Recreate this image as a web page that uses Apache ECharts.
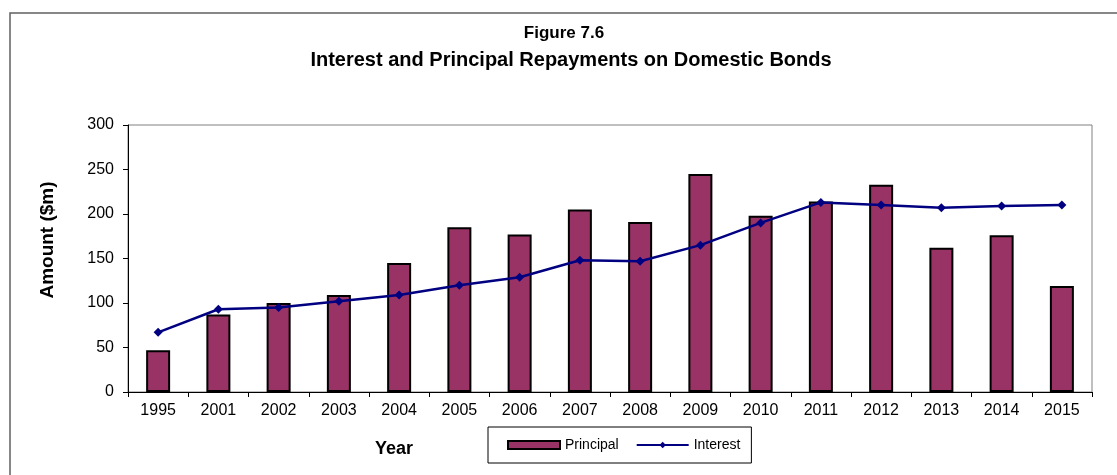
<!DOCTYPE html>
<html>
<head>
<meta charset="utf-8">
<script src="https://cdn.jsdelivr.net/npm/echarts@6/dist/echarts.min.js"></script>
<style>
  html, body { margin: 0; padding: 0; background: #fff; }
  #chart { width: 1117px; height: 475px; }
</style>
</head>
<body>
<div id="chart"></div>
<script>
// Repayments on domestic bonds, $m
const years = ['1995', '2001', '2002', '2003', '2004', '2005', '2006', '2007',
               '2008', '2009', '2010', '2011', '2012', '2013', '2014', '2015'];
const principal = [47, 87, 100, 109, 145, 185, 177, 205, 191, 245, 198, 214, 233, 162, 176, 119];
const interest  = [67, 93, 95, 102, 109, 120, 129, 148, 147, 165, 190, 213, 210, 207, 209, 210];
const yTicks = [0, 50, 100, 150, 200, 250, 300];

const FONT = 'Liberation Sans, Arial, sans-serif';
const chart = echarts.init(document.getElementById('chart'), null, { renderer: 'canvas' });

chart.setOption({
  animation: false,
  backgroundColor: '#fff',
  textStyle: { fontFamily: FONT },
  title: [
    { text: 'Figure 7.6', left: 559, top: 20, textAlign: 'center',
      textStyle: { fontFamily: FONT, fontSize: 17, fontWeight: 'bold', color: '#000' } },
    { text: 'Interest and Principal Repayments on Domestic Bonds', left: 566, top: 45, textAlign: 'center',
      textStyle: { fontFamily: FONT, fontSize: 20, fontWeight: 'bold', color: '#000' } }
  ],
  graphic: [
    // outer frame
    { type: 'rect', shape: { x: 10, y: 13, width: 1200, height: 600 },
      style: { fill: null, stroke: '#606060', lineWidth: 1.5 }, silent: true },
    // axis titles
    { type: 'text', x: 394, y: 449,
      style: { text: 'Year', fontFamily: FONT, fontSize: 18, fontWeight: 'bold', fill: '#000',
               align: 'center', verticalAlign: 'middle' } },
    { type: 'text', x: 48, y: 240, rotation: Math.PI / 2,
      style: { text: 'Amount ($m)', fontFamily: FONT, fontSize: 19, fontWeight: 'bold', fill: '#000',
               align: 'center', verticalAlign: 'middle' } }
  ],
  legend: {
    left: 488, top: 427,
    padding: [11, 11, 11, 19],
    itemGap: 17,
    itemWidth: 52, itemHeight: 8,
    borderColor: '#000', borderWidth: 1,
    textStyle: { fontFamily: FONT, fontSize: 14, color: '#000' },
    data: [
      { name: 'Principal', icon: 'rect' },
      { name: 'Interest' }
    ]
  },
  grid: {
    left: 128, top: 125, width: 964, height: 267,
    show: true, borderColor: '#808080', borderWidth: 1, backgroundColor: '#fff'
  },
  xAxis: {
    type: 'category',
    data: years,
    boundaryGap: true,
    axisLine: { lineStyle: { color: '#000', width: 1 } },
    axisTick: { show: true, length: 5, alignWithLabel: false, lineStyle: { color: '#000' } },
    axisLabel: { margin: 11, fontFamily: FONT, fontSize: 16, color: '#000' },
    splitLine: { show: false }
  },
  yAxis: {
    type: 'value',
    min: yTicks[0], max: yTicks[yTicks.length - 1], interval: 50,
    axisLine: { show: true, lineStyle: { color: '#000', width: 1 } },
    axisTick: { show: true, length: 5, lineStyle: { color: '#000' } },
    axisLabel: { margin: 14, fontFamily: FONT, fontSize: 16, color: '#000' },
    splitLine: { show: false }
  },
  series: [
    {
      name: 'Principal',
      type: 'bar',
      data: principal,
      barWidth: 24,
      itemStyle: { color: '#993366', borderColor: '#000', borderWidth: 2 }
    },
    {
      name: 'Interest',
      type: 'line',
      data: interest,
      symbol: 'diamond',
      symbolSize: 9,
      lineStyle: { color: '#000080', width: 2.5 },
      itemStyle: { color: '#000080' }
    }
  ]
});
</script>
</body>
</html>
